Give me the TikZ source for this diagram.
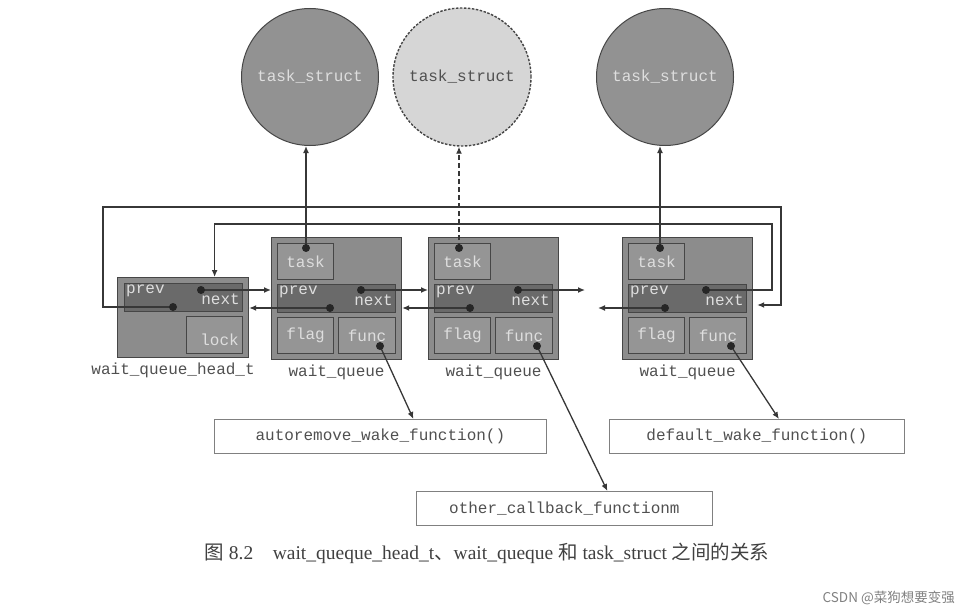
\documentclass[tikz,border=0pt]{standalone}
\usepackage{fontspec}
\setmainfont{Liberation Serif}
\setmonofont{Liberation Mono}
\newfontfamily\cjk{Noto Sans CJK SC}
\usetikzlibrary{arrows.meta, positioning}

\definecolor{boxgray}{RGB}{140,140,140}
\definecolor{bargray}{RGB}{106,106,106}
\definecolor{edgegray}{RGB}{70,70,70}
\definecolor{txtlight}{RGB}{222,222,222}
\definecolor{linegray}{RGB}{55,55,55}
\definecolor{txtdark}{RGB}{80,80,80}

\begin{document}
\begin{tikzpicture}[x=1pt, y=-1pt,
  every node/.style={font=\ttfamily\fontsize{16}{18}\selectfont, inner sep=0pt},
  outerbox/.style={draw=edgegray, line width=1.2pt, fill=boxgray, anchor=north west},
  cell/.style={draw=edgegray, line width=1pt, fill=boxgray!92!white, anchor=north west, text=txtlight},
  barcell/.style={cell, fill=bargray},
  celltext/.style={text=txtlight},
  tasknode/.style={circle, draw=edgegray, line width=1pt, fill=boxgray!95!white, minimum size=137pt, text=txtlight},
  ghostnode/.style={circle, draw=edgegray, dash pattern=on 2.5pt off 1.5pt, line width=1.4pt, fill=gray!32, minimum size=138pt, text=txtdark},
  fnbox/.style={draw=gray, line width=0.8pt, minimum height=34pt, anchor=north west, text=txtdark},
  ptr/.style={draw=linegray, line width=1.3pt, -{Latex[length=7pt,width=6pt]}},
  lbl/.style={text=txtdark}]
\useasboundingbox (0,0) rectangle (958,615);

% task_struct circles
\node[tasknode] (ts1) at (310,77) {task\_struct};
\node[ghostnode] (ts2) at (462,77) {task\_struct};
\node[tasknode] (ts3) at (665,77) {task\_struct};

% wait_queue_head_t
\node[outerbox, minimum width=131pt, minimum height=80pt] (hd) at (117,277) {};
\node[barcell, minimum width=118pt, minimum height=28pt] (hd-bar) at (124,283) {};
\node[cell, minimum width=56pt, minimum height=37pt] (hd-lock) at (186,316) {};
\node[celltext, anchor=south east] at ([xshift=-4pt, yshift=8pt]hd-lock.south east) {lock};
\node[celltext, anchor=north west] at ([xshift=2pt, yshift=-2pt]hd-bar.north west) {prev};
\node[celltext, anchor=south east] at ([xshift=-3pt, yshift=7pt]hd-bar.south east) {next};
\coordinate (hd-nd) at (201,290);
\coordinate (hd-pd) at (173,307);
\node[lbl, below=5pt of hd, xshift=-10pt] (hd-name) {wait\_queue\_head\_t};

% wait_queue entries
\foreach \n/\x/\pd/\nd/\td in {1/271/59/90/35, 2/428/42/90/31, 3/622/43/84/38} {
  \node[outerbox, minimum width=130pt, minimum height=122pt] (wq\n) at (\x,237) {};
  \node[cell, minimum width=56pt, minimum height=36pt] (wq\n-task) at ({\x+6},243) {task};
  \node[barcell, minimum width=118pt, minimum height=28pt] (wq\n-bar) at ({\x+6},284) {};
  \node[cell, minimum width=56pt, minimum height=36pt] (wq\n-flag) at ({\x+6},317) {flag};
  \node[cell, minimum width=57pt, minimum height=36pt] (wq\n-func) at ({\x+67},317) {func};
  \node[celltext, anchor=north west] at ([xshift=2pt, yshift=-2pt]wq\n-bar.north west) {prev};
  \node[celltext, anchor=south east] at ([xshift=-3pt, yshift=7pt]wq\n-bar.south east) {next};
  \node[lbl, below=5pt of wq\n] (wq\n-name) {wait\_queue};
  \coordinate (wq\n-td) at ({\x+\td},248);
  \coordinate (wq\n-nd) at ({\x+\nd},290);
  \coordinate (wq\n-pd) at ({\x+\pd},308);
  \coordinate (wq\n-fd) at ({\x+109},346);
}

% wake functions
\node[fnbox, minimum width=332pt] (fn1) at (214,419) {autoremove\_wake\_function()};
\node[fnbox, minimum width=296pt] (fn2) at (416,491) {other\_callback\_functionm};
\node[fnbox, minimum width=295pt] (fn3) at (609,419) {default\_wake\_function()};

% list pointers
\coordinate (gapr) at (585,290);
\coordinate (gapl) at (598,308);
\draw[ptr] (hd-nd) -- (hd-nd -| wq1.west);
\draw[ptr] (wq1-pd) -- (wq1-pd -| hd.east);
\draw[ptr] (wq1-nd) -- (wq1-nd -| wq2.west);
\draw[ptr] (wq2-pd) -- (wq2-pd -| wq1.east);
\draw[ptr] (wq2-nd) -- (gapr);
\draw[ptr] (wq3-pd) -- (gapl);
\draw[ptr] (wq3-nd) -| (772,224) -| ([xshift=31.5pt]hd.north);
\draw[ptr, shorten >=4pt] (hd-pd) -| (103,207) -| (781,305) -- (wq3.east |- 781,305);

% task pointers
\draw[ptr] (wq1-td) -- (wq1-td |- ts1.south);
\draw[ptr, dash pattern=on 5pt off 3pt] (wq2-td) -- (wq2-td |- ts2.south);
\draw[ptr] (wq3-td) -- (wq3-td |- ts3.south);

% func pointers
\draw[ptr] (wq1-fd) -- ([xshift=33pt]fn1.north);
\draw[ptr] (wq2-fd) -- ([xshift=43pt]fn2.north);
\draw[ptr] (wq3-fd) -- ([xshift=22pt]fn3.north);

% dots
\foreach \p in {hd-nd, hd-pd, wq1-td, wq1-nd, wq1-pd, wq1-fd, wq2-td, wq2-nd, wq2-pd, wq2-fd, wq3-td, wq3-nd, wq3-pd, wq3-fd}
  \fill[black!85] (\p) circle (4pt);

% caption
\node[font=\rmfamily\fontsize{19.5}{22}\selectfont, text=black!75] (cap) at (487,553)
  {{\cjk 图} 8.2\quad wait\_queque\_head\_t{\cjk 、}wait\_queque {\cjk 和} task\_struct {\cjk 之间的关系}};
\node[font=\cjk\fontsize{13.5}{16}\selectfont, text=gray, anchor=east] (mark) at (955,598) {CSDN @菜狗想要变强};
\end{tikzpicture}
\end{document}
